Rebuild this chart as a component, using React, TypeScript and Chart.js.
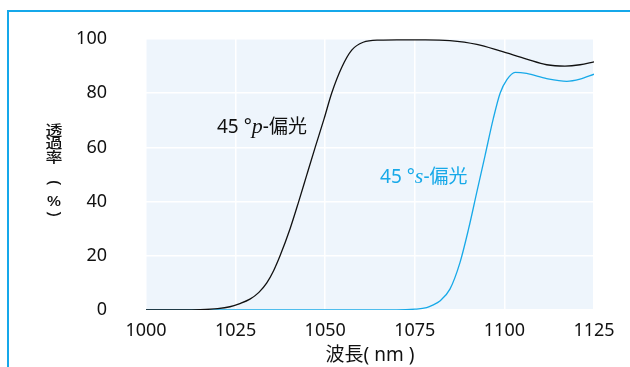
import React, { useEffect, useRef } from "react";
import { Chart, registerables } from "chart.js";

Chart.register(...registerables);

// ---- data ----
const pWavelength = [1000, 1010, 1015, 1020, 1023.4, 1026, 1029, 1031.5, 1033.7, 1035.6, 1037.4, 1040.2, 1042.6, 1044.8, 1047.2, 1049.7, 1051.8, 1054.6, 1057.4, 1060.6, 1065.3, 1070, 1078, 1084.8, 1092.3, 1098.8, 1106.2, 1111.8, 1116.9, 1121.1, 1125];
const pValues = [0, 0, 0.1, 0.5, 1.2, 2.3, 4, 6.5, 10, 14.5, 20, 30, 40, 49.6, 60, 70.6, 80, 89.5, 95.9, 98.8, 99.6, 99.7, 99.7, 99.4, 98, 95.6, 92.6, 90.5, 90, 90.5, 91.6];

const sWavelength = [1000, 1070, 1075, 1078.3, 1080, 1082, 1084.8, 1087.6, 1090, 1092.3, 1094.6, 1096.9, 1098.8, 1100.7, 1103, 1106.2, 1111.8, 1117.4, 1121.1, 1125];
const sValues = [0, 0, 0.3, 0.9, 1.8, 3.3, 7.7, 17.5, 29.9, 43.5, 57, 70.6, 80, 85, 87.7, 87.3, 85.4, 84.4, 85.2, 87];

const xTicks = [1000, 1025, 1050, 1075, 1100, 1125];
const yTicks = [0, 20, 40, 60, 80, 100];

const seriesLabels = ["p", "s"];
const labelAnchorsX = [1019.8, 1065.3];
const labelAnchorsY = [67.4, 48.9];

const xTitle = "波長( nm )";
const yTitleChars = ["透", "過", "率", "(", "%", ")"];

const BLACK = "#111111";
const BLUE = "#17a9e8";
const SANS = "'Noto Sans', 'Noto Sans CJK JP', sans-serif";

const bgPlugin = {
  id: "plotBg",
  beforeDraw(chart: any) {
    const { ctx, chartArea: a } = chart;
    ctx.save();
    ctx.fillStyle = "#eef5fc";
    ctx.fillRect(a.left, a.top, a.right - a.left, a.bottom - a.top);
    ctx.restore();
  },
};

const textPlugin = {
  id: "texts",
  afterDraw(chart: any) {
    const { ctx } = chart;
    const xs = chart.scales.x;
    const ys = chart.scales.y;
    ctx.save();
    ctx.textBaseline = "middle";
    ctx.textAlign = "left";
    const colors = [BLACK, BLUE];
    seriesLabels.forEach((letter, i) => {
      let x = xs.getPixelForValue(labelAnchorsX[i]);
      const y = ys.getPixelForValue(labelAnchorsY[i]);
      ctx.fillStyle = colors[i];
      const parts: [string, string][] = [
        ["45 °", `19px ${SANS}`],
        [letter, `italic 22px 'Liberation Serif', 'DejaVu Serif', serif`],
        ["-偏光", `19px ${SANS}`],
      ];
      for (const [t, f] of parts) {
        ctx.font = f;
        ctx.fillText(t, x, y);
        x += ctx.measureText(t).width;
      }
    });
    // y title stacked vertically
    ctx.fillStyle = BLACK;
    ctx.textAlign = "center";
    ctx.font = `500 17px ${SANS}`;
    const yPos = [131, 144.5, 158, 183, 202, 214];
    yTitleChars.forEach((c, i) => {
      ctx.save();
      ctx.translate(54, yPos[i]);
      if (c === "(" || c === ")") {
        ctx.rotate(Math.PI / 2);
      } else {
        ctx.scale(1, 0.82);
      }
      ctx.fillText(c, 0, 0);
      ctx.restore();
    });
    ctx.restore();
  },
};

export default function App() {
  const ref = useRef<HTMLCanvasElement>(null);
  useEffect(() => {
    if (!ref.current) return;
    const chart = new Chart(ref.current, {
      type: "line",
      data: {
        datasets: [
          {
            data: pWavelength.map((x, i) => ({ x, y: pValues[i] })),
            borderColor: BLACK,
            borderWidth: 1.3,
            pointRadius: 0,
            cubicInterpolationMode: "monotone",
          },
          {
            data: sWavelength.map((x, i) => ({ x, y: sValues[i] })),
            borderColor: BLUE,
            borderWidth: 1.3,
            pointRadius: 0,
            cubicInterpolationMode: "monotone",
          },
        ],
      },
      options: {
        responsive: false,
        animation: false,
        layout: { padding: { left: 0, top: 39, right: 36, bottom: 0 } },
        plugins: { legend: { display: false }, tooltip: { enabled: false } },
        scales: {
          x: {
            type: "linear",
            min: 1000,
            max: 1125,
            afterBuildTicks: (s: any) => {
              s.ticks = xTicks.map((v) => ({ value: v }));
            },
            afterFit: (s: any) => {
              s.height = 57;
              s.paddingLeft = 0;
              s.paddingRight = 0;
            },
            grid: { color: "#ffffff", lineWidth: 1.5, drawTicks: false },
            border: { display: false },
            ticks: { color: BLACK, font: { size: 18, family: SANS }, padding: 10, callback: (v: any) => String(v) },
            title: {
              display: true,
              text: xTitle,
              color: BLACK,
              font: { size: 19, family: SANS },
              padding: 0,
            },
          },
          y: {
            min: 0,
            max: 100,
            afterBuildTicks: (s: any) => {
              s.ticks = yTicks.map((v) => ({ value: v }));
            },
            afterFit: (s: any) => {
              s.width = 146;
              s.paddingTop = 0;
              s.paddingBottom = 0;
            },
            grid: { color: "#ffffff", lineWidth: 1.5, drawTicks: false },
            border: { display: false },
            ticks: { color: BLACK, font: { size: 18, family: SANS }, padding: 39, callback: (v: any) => String(v) },
          },
        },
      },
      plugins: [bgPlugin, textPlugin],
    } as any);
    return () => chart.destroy();
  }, []);

  return (
    <div style={{ position: "fixed", left: 0, top: 0, width: 630, height: 367, background: "#fff" }}>
      <canvas ref={ref} width={630} height={367} style={{ position: "absolute", left: 0, top: 0 }} />
      <div style={{ position: "absolute", left: 7, top: 10, width: 2, height: 357, background: "#15a8ea" }} />
      <div style={{ position: "absolute", left: 7, top: 10, width: 623, height: 2, background: "#15a8ea" }} />
    </div>
  );
}
